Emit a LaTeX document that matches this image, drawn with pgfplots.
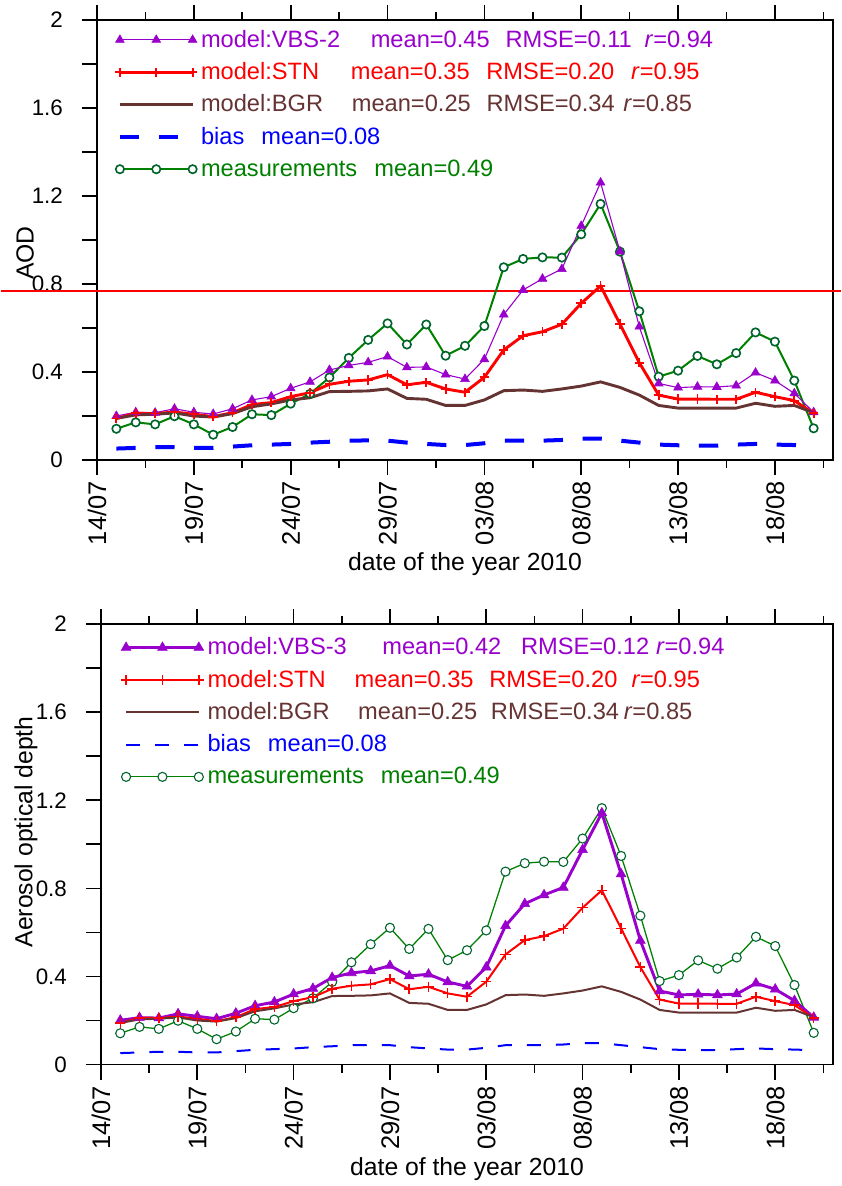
\documentclass[border=0pt]{standalone}
\usepackage{fontspec}
\setmainfont{Liberation Sans}
\newcommand\lt[2]{{\fontsize{13}{15.6}\selectfont\textcolor{#1}{#2}}}
\usepackage{pgfplots}
\pgfplotsset{compat=1.18}
\usepackage{pgfplotstable}

\definecolor{cvbs}{RGB}{153,0,204}
\definecolor{cstn}{RGB}{255,0,0}
\definecolor{cbgr}{RGB}{102,51,51}
\definecolor{cbias}{RGB}{0,0,255}
\definecolor{cmeas}{RGB}{0,128,0}
\definecolor{cmeasmk}{RGB}{0,100,45}

\pgfplotstableread{
day meas vbstwo vbsthree stn bgr bias
1 0.142 0.200 0.201 0.189 0.189 0.052
2 0.171 0.217 0.213 0.212 0.205 0.055
3 0.162 0.215 0.211 0.211 0.208 0.058
4 0.199 0.233 0.230 0.218 0.214 0.058
5 0.162 0.217 0.219 0.208 0.200 0.055
6 0.115 0.209 0.208 0.197 0.195 0.055
7 0.150 0.233 0.233 0.215 0.211 0.061
8 0.208 0.273 0.267 0.252 0.242 0.067
9 0.204 0.288 0.284 0.261 0.255 0.070
10 0.256 0.326 0.320 0.288 0.273 0.073
11 0.301 0.355 0.345 0.306 0.283 0.079
12 0.375 0.409 0.395 0.344 0.311 0.083
13 0.464 0.430 0.416 0.358 0.312 0.088
14 0.546 0.444 0.425 0.364 0.314 0.089
15 0.621 0.470 0.449 0.388 0.323 0.088
16 0.525 0.421 0.402 0.342 0.280 0.079
17 0.616 0.423 0.410 0.353 0.276 0.073
18 0.474 0.388 0.375 0.323 0.248 0.068
19 0.519 0.368 0.355 0.308 0.248 0.068
20 0.609 0.458 0.442 0.376 0.273 0.076
21 0.876 0.661 0.630 0.500 0.315 0.088
22 0.914 0.773 0.730 0.565 0.318 0.088
23 0.921 0.824 0.770 0.583 0.312 0.088
24 0.920 0.868 0.804 0.617 0.323 0.091
25 1.026 1.064 0.975 0.712 0.336 0.097
26 1.164 1.261 1.142 0.791 0.355 0.097
27 0.947 0.948 0.865 0.618 0.330 0.088
28 0.676 0.606 0.563 0.442 0.295 0.079
29 0.379 0.348 0.334 0.295 0.248 0.070
30 0.406 0.329 0.316 0.277 0.236 0.067
31 0.473 0.333 0.319 0.277 0.236 0.065
32 0.435 0.332 0.316 0.276 0.236 0.065
33 0.486 0.338 0.320 0.276 0.236 0.070
34 0.580 0.397 0.369 0.308 0.258 0.073
35 0.538 0.361 0.342 0.288 0.244 0.070
36 0.361 0.303 0.290 0.270 0.248 0.068
37 0.144 0.217 0.214 0.212 0.215 0.065
}\data

\pgfplotsset{
  panel/.style={
    scale only axis,
    xmin=0, xmax=38, ymin=0, ymax=2,
    axis line style={line width=0.9pt},
    every tick/.style={black, line width=0.9pt},
    tick align=outside,
    xtick pos=both, ytick pos=left,
    xtick={0,5,10,15,20,25,30,35},
    xticklabels={14/07,19/07,24/07,29/07,03/08,08/08,13/08,18/08},
    minor xtick={2.5,7.5,12.5,17.5,22.5,27.5,32.5,37.5},
    ytick={0,0.4,0.8,1.2,1.6,2},
    yticklabels={0,0.4,0.8,1.2,1.6,2},
    extra y ticks={0.2,0.6,1.0,1.4,1.8},
    extra y tick labels={},
    major tick length=8.25pt,
    minor tick length=4.4pt,
    x tick label style={rotate=90, anchor=east, font=\fontsize{14}{16}\selectfont},
    y tick label style={font=\fontsize{12.3}{14}\selectfont, xshift=-7pt},
    xlabel={date of the year 2010},
    xlabel style={font=\fontsize{13.6}{16}\selectfont, at={(axis description cs:0.5,0)}, anchor=base, yshift=-61pt},
    clip=false,
    legend cell align=left,
    legend style={draw=none, fill=none, inner sep=0pt, anchor=north west,
      at={(axis description cs:0,1)},
      row sep=2.9pt, column sep=0pt},
    legend image code/.code={\draw[mark repeat=1,##1] plot coordinates {(0pt,0pt) (20pt,0pt) (40pt,0pt)};},
  }
}

\begin{document}
\begin{tikzpicture}
% ---------------- top panel ----------------
\begin{axis}[panel, width=404.8pt, height=242pt,
  at={(53.35pt,-11pt)}, anchor=north west,
  ylabel={AOD},
  ylabel style={font=\fontsize{13.6}{16}\selectfont, at={(axis description cs:-0.0978,0.47)}, anchor=center},
  legend style={xshift=9.8pt, yshift=-3.3pt}]
\addplot[cstn, line width=1.2pt, forget plot] coordinates {(-4.95,0.77) (38.4,0.77)};
\addplot[cmeas, line width=1.1pt, mark=*, mark size=2.3pt, mark options={draw=cmeasmk, fill=white, line width=0.9pt}, forget plot] table[x=day, y=meas] {\data};
\addplot[cvbs, line width=0.6pt, mark=triangle*, mark size=2.8pt, mark options={fill=cvbs, draw=cvbs, line width=0.3pt}] table[x=day, y=vbstwo] {\data};
\addlegendentry{\lt{cvbs}{model:VBS-2\hspace{16.8pt}mean=0.45\hspace{8.7pt}RMSE=0.11\hspace{7pt}\textit{r}=0.94}}
\addplot[cstn, line width=1.6pt, mark=+, mark size=2.6pt, mark options={line width=1pt}] table[x=day, y=stn] {\data};
\addlegendentry{\lt{cstn}{model:STN\hspace{17.4pt}mean=0.35\hspace{9.1pt}RMSE=0.20\hspace{9.2pt}\textit{r}=0.95}}
\addplot[cbgr, line width=1.6pt] table[x=day, y=bgr] {\data};
\addlegendentry{\lt{cbgr}{model:BGR\hspace{15.8pt}mean=0.25\hspace{8.7pt}RMSE=0.34\hspace{4.8pt}\textit{r}=0.85}}
\addplot[cbias, line width=2.2pt, dash pattern=on 10.6pt off 10.8pt] table[x=day, y=bias] {\data};
\addlegendentry{\lt{cbias}{bias\hspace{9.4pt}mean=0.08}}
\addlegendimage{cmeas, line width=1.1pt, mark=*, mark size=2.3pt, mark options={draw=cmeasmk, fill=white, line width=0.9pt}}
\addlegendentry{\lt{cmeas}{measurements\hspace{9.4pt}mean=0.49}}
\end{axis}
% ---------------- bottom panel ----------------
\begin{axis}[panel, width=402.6pt, height=242.3pt,
  at={(55.55pt,-343.2pt)}, anchor=north west,
  ylabel={Aerosol optical depth},
  ylabel style={font=\fontsize{13.6}{16}\selectfont, at={(axis description cs:-0.1026,0.528)}, anchor=center},
  legend style={xshift=10.8pt, yshift=-5.3pt}]
\addplot[cmeas, line width=0.7pt, mark=*, mark size=2.5pt, mark options={draw=cmeasmk, fill=white, line width=0.6pt}, forget plot] table[x=day, y=meas] {\data};
\addplot[cvbs, line width=1.6pt, mark=triangle*, mark size=3.1pt, mark options={fill=cvbs, draw=cvbs, line width=0.3pt}] table[x=day, y=vbsthree] {\data};
\addlegendentry{\lt{cvbs}{model:VBS-3\hspace{19.6pt}mean=0.42\hspace{10.9pt}RMSE=0.12\hspace{3.7pt}\textit{r}=0.94}}
\addplot[cstn, line width=1.1pt, mark=+, mark size=2.8pt, mark options={line width=0.8pt}] table[x=day, y=stn] {\data};
\addlegendentry{\lt{cstn}{model:STN\hspace{15.9pt}mean=0.35\hspace{8.7pt}RMSE=0.20\hspace{7.7pt}\textit{r}=0.95}}
\addplot[cbgr, line width=1.1pt] table[x=day, y=bgr] {\data};
\addlegendentry{\lt{cbgr}{model:BGR\hspace{15.7pt}mean=0.25\hspace{7.6pt}RMSE=0.34\hspace{2.6pt}\textit{r}=0.85}}
\addplot[cbias, line width=1.1pt, dash pattern=on 7.7pt off 8.3pt] table[x=day, y=bias] {\data};
\addlegendentry{\lt{cbias}{bias\hspace{9.4pt}mean=0.08}}
\addlegendimage{cmeas, line width=0.7pt, mark=*, mark size=2.5pt, mark options={draw=cmeasmk, fill=white, line width=0.6pt}}
\addlegendentry{\lt{cmeas}{measurements\hspace{9.4pt}mean=0.49}}
\end{axis}
\pgfresetboundingbox
\path[use as bounding box] (0,0) rectangle (462.55pt,-652.3pt);
\end{tikzpicture}
\end{document}
